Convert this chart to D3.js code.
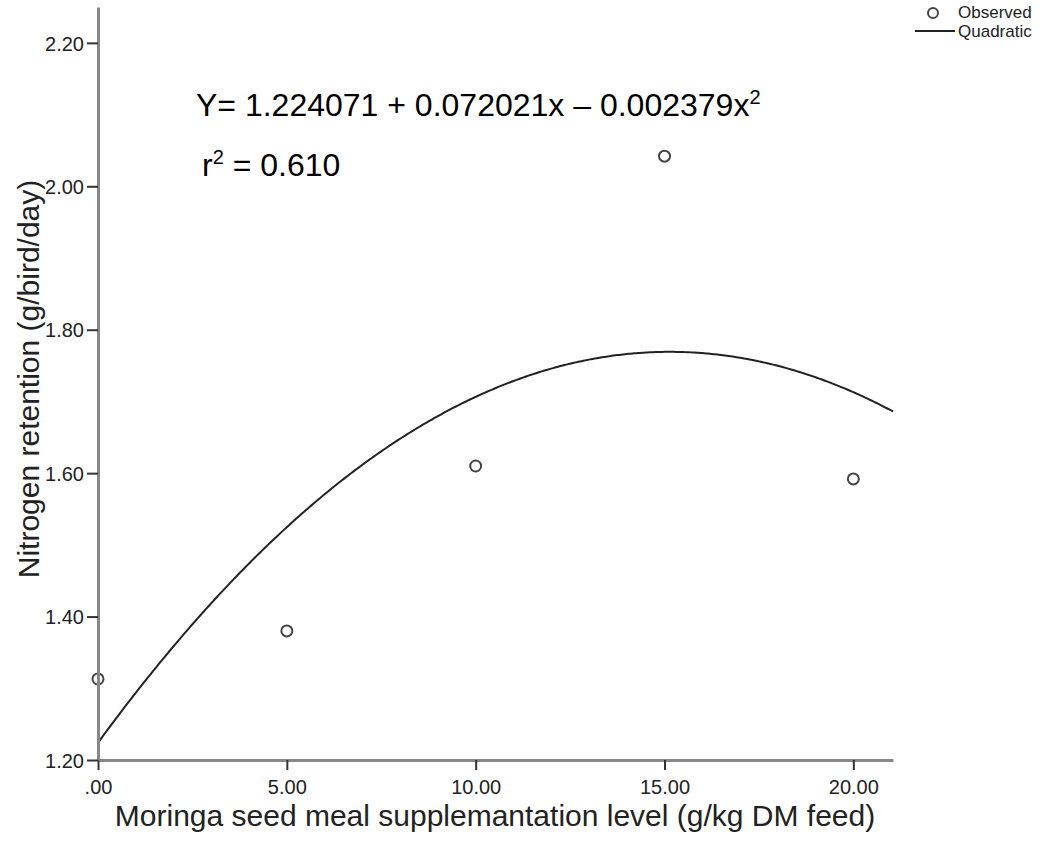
<!DOCTYPE html>
<html>

<head>
    <meta charset="utf-8" />
    <title>Nitrogen retention - quadratic fit</title>
    <script src="https://d3js.org/d3.v7.min.js"></script>
    <style>
        body {
            margin: 0;
            background: #fff;
        }

        svg text {
            font-family: "Liberation Sans", Arial, sans-serif;
        }
    </style>
</head>

<body>
    <svg></svg>

    <script>

        // Data
        let levels = [0, 5, 10, 15, 20];
        let retention = [1.313, 1.380, 1.610, 2.042, 1.592];

        // Quadratic fit coefficients (b0, b1, b2) as printed on the chart
        let coefs = [1.224071, 0.072021, -0.002379];

        let xTicks = [0, 5, 10, 15, 20];
        let xTickLabels = [".00", "5.00", "10.00", "15.00", "20.00"];
        let yTicks = [1.2, 1.4, 1.6, 1.8, 2.0, 2.2];
        let yTickLabels = ["1.20", "1.40", "1.60", "1.80", "2.00", "2.20"];

        let width = 1057, height = 851;

        let svg = d3.select("svg")
            .attr("width", width)
            .attr("height", height);

        // Scales
        let x = d3.scaleLinear().domain([0, 21.05]).range([98, 893]);
        let y = d3.scaleLinear().domain([1.2, 2.25]).range([760, 7]);

        // Fitted curve
        let fit = d3.range(0, 21.05 + 0.001, 0.05).map(function (v) {
            return [v, coefs[0] + coefs[1] * v + coefs[2] * v * v];
        });

        let line = d3.line()
            .x(d => x(d[0]))
            .y(d => y(d[1]));

        svg.append("path")
            .datum(fit)
            .attr("d", line)
            .attr("fill", "none")
            .attr("stroke", "#222")
            .attr("stroke-width", 2);

        // Observed points
        svg.append("g")
            .selectAll("circle")
            .data(levels)
            .join("circle")
            .attr("cx", d => x(d))
            .attr("cy", (d, i) => y(retention[i]))
            .attr("r", 5.5)
            .attr("fill", "none")
            .attr("stroke", "#444")
            .attr("stroke-width", 2);

        // Axes
        let xAxis = d3.axisBottom(x)
            .tickValues(xTicks)
            .tickFormat((d, i) => xTickLabels[i])
            .tickSize(10)
            .tickSizeOuter(0);

        let yAxis = d3.axisLeft(y)
            .tickValues(yTicks)
            .tickFormat((d, i) => yTickLabels[i])
            .tickSize(11)
            .tickSizeOuter(0);

        let gx = svg.append("g")
            .attr("transform", "translate(0,760)")
            .call(xAxis);

        let gy = svg.append("g")
            .attr("transform", "translate(98,0)")
            .call(yAxis);

        [gx, gy].forEach(function (g) {
            g.select(".domain")
                .attr("stroke", "#888")
                .attr("stroke-width", 3);
            g.selectAll(".tick line")
                .attr("stroke", "#333")
                .attr("stroke-width", 2);
            g.selectAll(".tick text")
                .attr("fill", "#222")
                .style("font-size", "20px");
        });
        gx.selectAll(".tick text").attr("y", 20).attr("dy", "0.71em");
        gy.selectAll(".tick text").attr("x", -14).attr("dy", "0.36em");

        // Axis titles
        svg.append("text")
            .attr("x", 495)
            .attr("y", 826)
            .attr("text-anchor", "middle")
            .style("font-size", "30px")
            .attr("fill", "#222")
            .text("Moringa seed meal supplemantation level (g/kg DM feed)");

        svg.append("text")
            .attr("transform", "translate(39,379) rotate(-90)")
            .attr("text-anchor", "middle")
            .style("font-size", "30px")
            .attr("fill", "#222")
            .text("Nitrogen retention (g/bird/day)");

        // Equation annotation
        let eq = svg.append("text")
            .attr("x", 196)
            .attr("y", 116)
            .style("font-size", "32px")
            .attr("fill", "#000");
        eq.append("tspan").text("Y= 1.224071 + 0.072021x \u2013 0.002379x");
        eq.append("tspan").attr("dy", -12).style("font-size", "20px").text("2");

        let r2 = svg.append("text")
            .attr("x", 202)
            .attr("y", 176)
            .style("font-size", "32px")
            .attr("fill", "#000");
        r2.append("tspan").text("r");
        r2.append("tspan").attr("dy", -12).style("font-size", "20px").text("2");
        r2.append("tspan").attr("dy", 12).text(" = 0.610");

        // Legend
        let legend = svg.append("g");
        legend.append("circle")
            .attr("cx", 933)
            .attr("cy", 13)
            .attr("r", 5)
            .attr("fill", "none")
            .attr("stroke", "#444")
            .attr("stroke-width", 2);
        legend.append("text")
            .attr("x", 958)
            .attr("y", 18)
            .style("font-size", "17px")
            .attr("fill", "#222")
            .text("Observed");
        legend.append("line")
            .attr("x1", 915)
            .attr("x2", 955)
            .attr("y1", 31)
            .attr("y2", 31)
            .attr("stroke", "#222")
            .attr("stroke-width", 2);
        legend.append("text")
            .attr("x", 958)
            .attr("y", 37)
            .style("font-size", "17px")
            .attr("fill", "#222")
            .text("Quadratic");

    </script>
</body>

</html>
